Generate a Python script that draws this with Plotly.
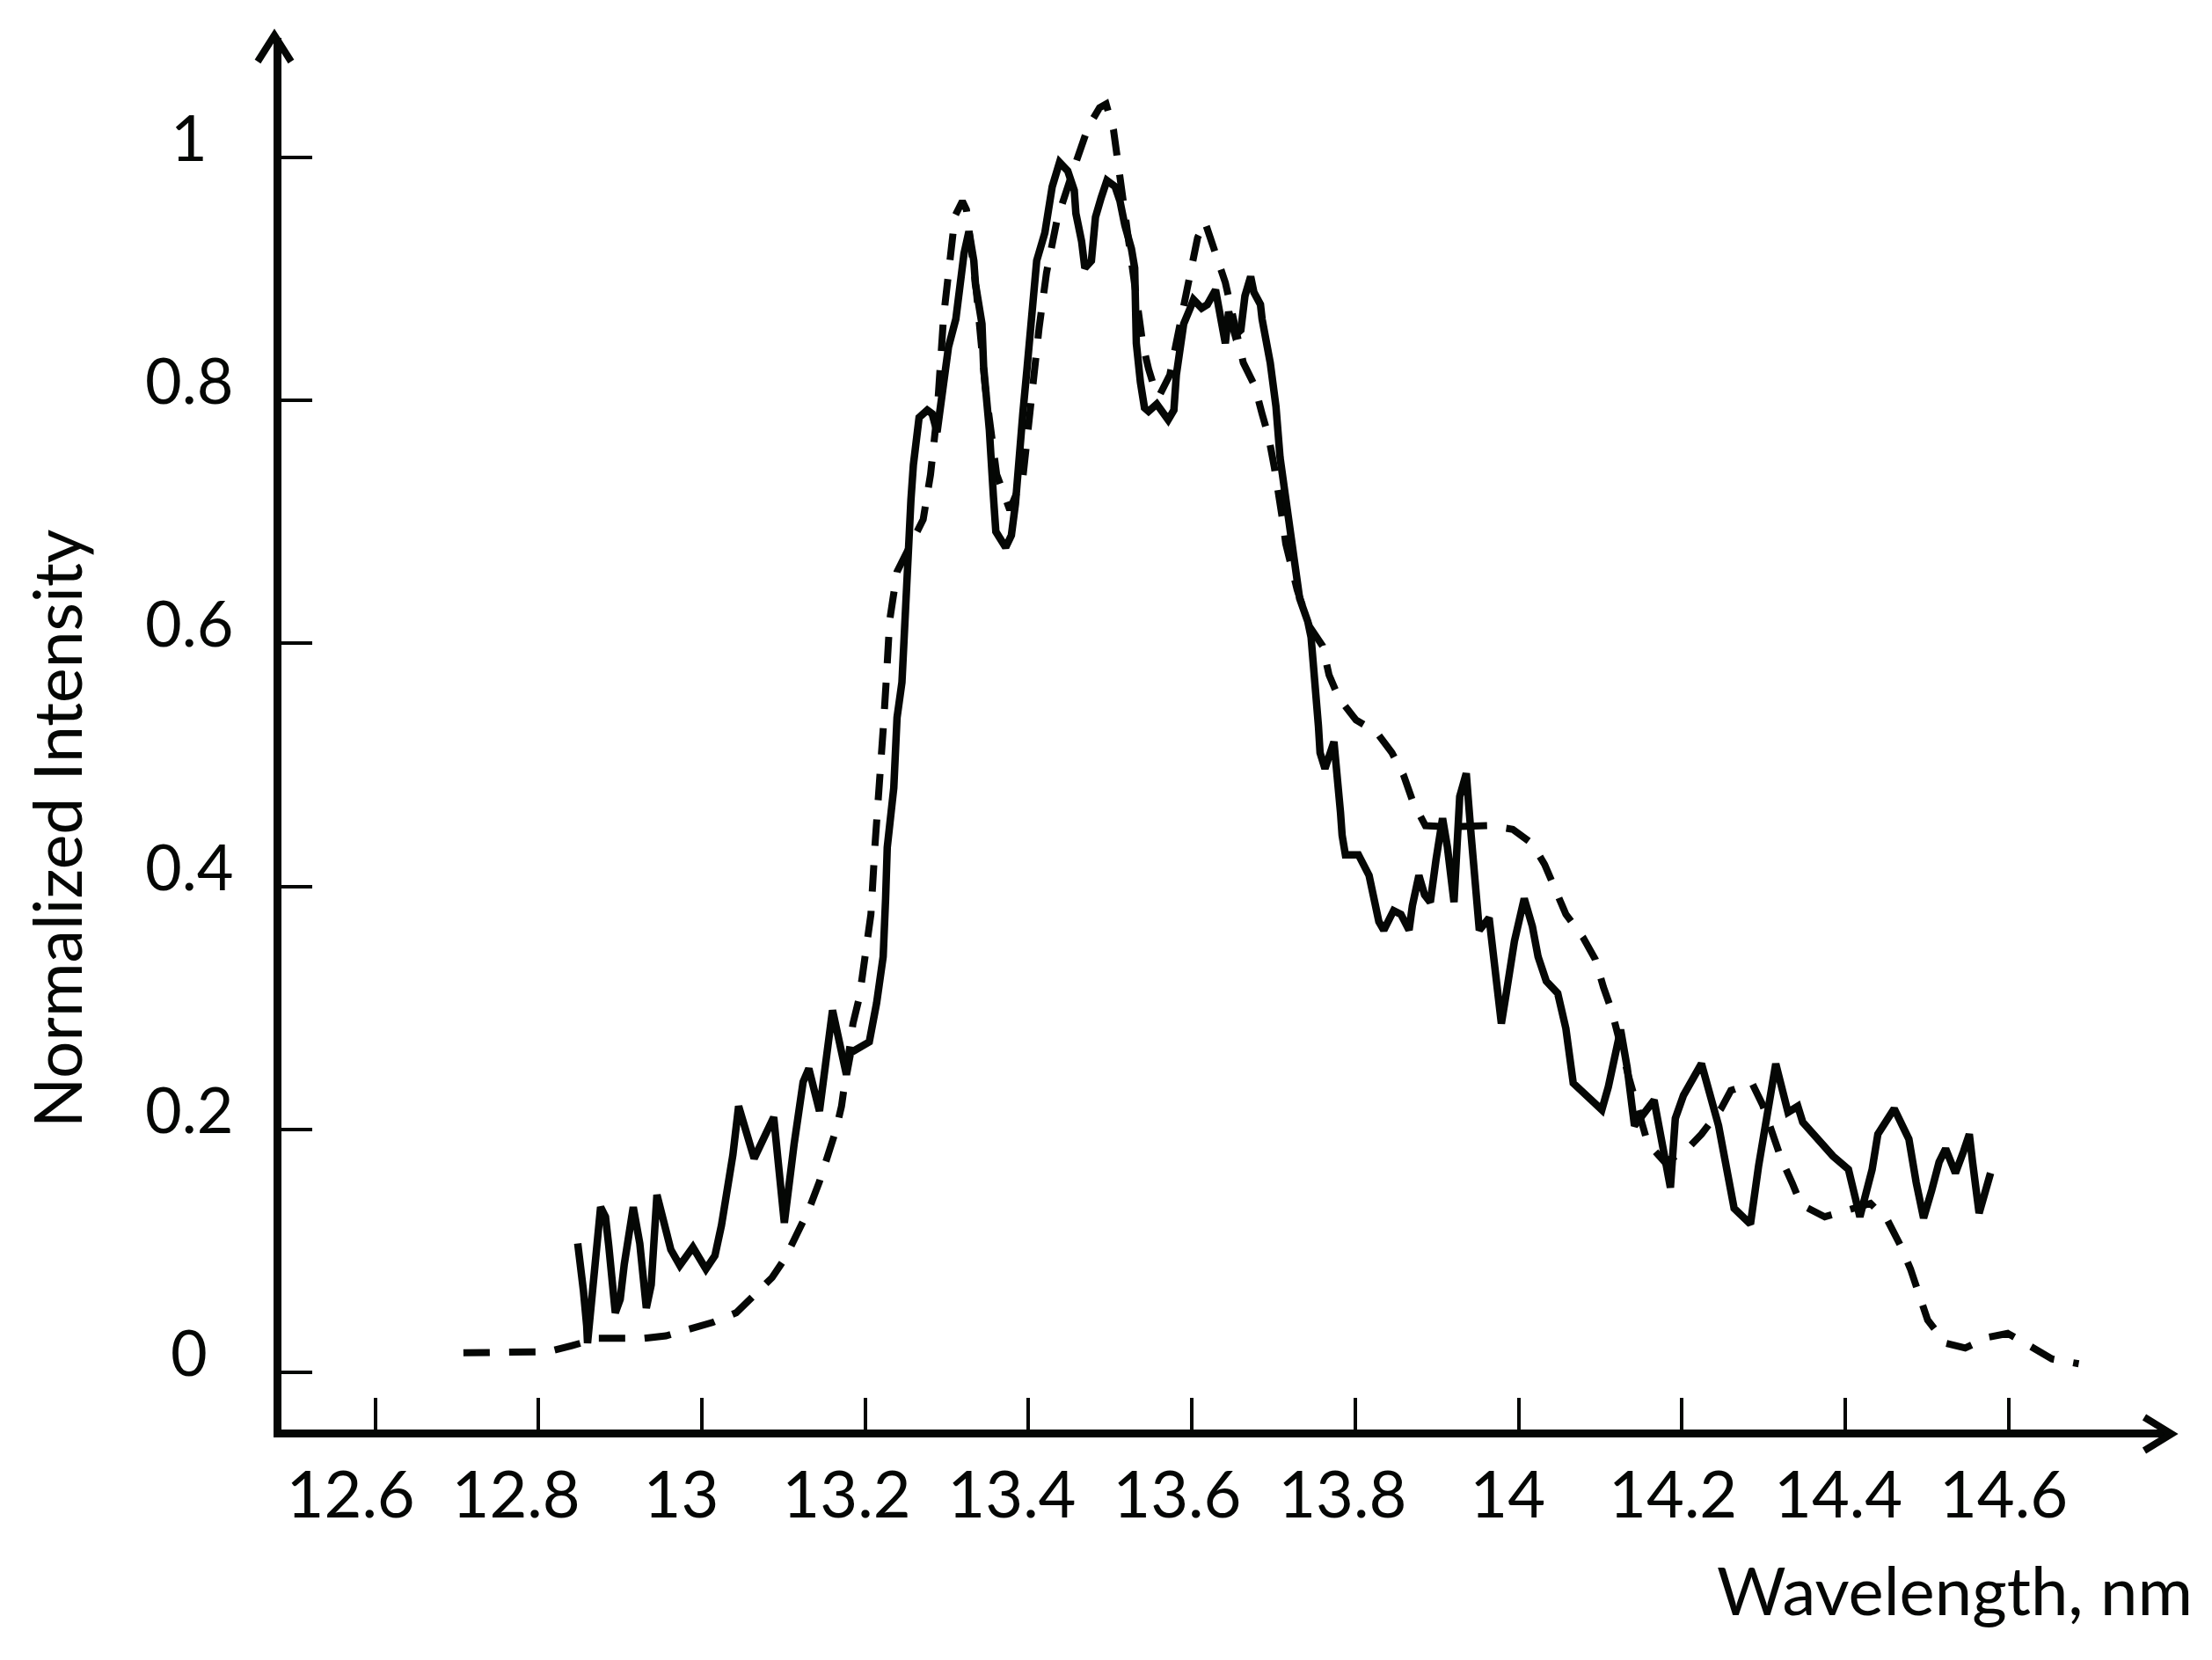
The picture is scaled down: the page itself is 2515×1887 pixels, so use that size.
import plotly.graph_objects as go

# ---- data ----
measured_x = [12.848, 12.851, 12.855, 12.859, 12.860, 12.876, 12.882, 12.886, 12.894, 12.900,
              12.905, 12.916, 12.919, 12.924, 12.932, 12.938, 12.945, 12.952, 12.962, 12.973,
              12.989, 13.005, 13.016, 13.024, 13.038, 13.045, 13.064, 13.088, 13.096, 13.101,
              13.113, 13.124, 13.131, 13.144, 13.160, 13.177, 13.182, 13.205, 13.214, 13.222,
              13.225, 13.227, 13.235, 13.239, 13.245, 13.249, 13.253, 13.256, 13.259, 13.266,
              13.276, 13.282, 13.288, 13.294, 13.302, 13.311, 13.317, 13.321, 13.327, 13.333,
              13.335, 13.343, 13.345, 13.352, 13.357, 13.360, 13.372, 13.379, 13.384, 13.388,
              13.393, 13.398, 13.405, 13.410, 13.420, 13.429, 13.438, 13.448, 13.456, 13.458,
              13.465, 13.469, 13.477, 13.482, 13.489, 13.496, 13.506, 13.512, 13.518, 13.526,
              13.530, 13.532, 13.537, 13.542, 13.547, 13.557, 13.571, 13.578, 13.581, 13.586,
              13.590, 13.598, 13.602, 13.612, 13.619, 13.629, 13.641, 13.645, 13.653, 13.660,
              13.665, 13.672, 13.676, 13.684, 13.686, 13.696, 13.703, 13.708, 13.723, 13.732,
              13.742, 13.746, 13.755, 13.757, 13.763, 13.774, 13.782, 13.784, 13.788, 13.804,
              13.817, 13.823, 13.829, 13.835, 13.847, 13.856, 13.866, 13.870, 13.878, 13.885,
              13.892, 13.899, 13.907, 13.913, 13.921, 13.928, 13.936, 13.942, 13.952, 13.964,
              13.979, 13.985, 13.995, 14.007, 14.017, 14.024, 14.034, 14.048, 14.058, 14.067,
              14.082, 14.102, 14.110, 14.125, 14.133, 14.142, 14.166, 14.186, 14.192, 14.202,
              14.224, 14.245, 14.264, 14.284, 14.294, 14.315, 14.330, 14.342, 14.348, 14.385,
              14.404, 14.418, 14.433, 14.440, 14.460, 14.478, 14.487, 14.496, 14.506, 14.515,
              14.523, 14.535, 14.545, 14.552, 14.556, 14.564, 14.578]
measured_y = [0.106, 0.092, 0.067, 0.038, 0.024, 0.136, 0.128, 0.104, 0.049, 0.060,
              0.089, 0.136, 0.121, 0.106, 0.053, 0.072, 0.146, 0.128, 0.101, 0.088,
              0.103, 0.085, 0.096, 0.121, 0.179, 0.219, 0.176, 0.210, 0.152, 0.123,
              0.188, 0.239, 0.250, 0.215, 0.298, 0.245, 0.263, 0.272, 0.304, 0.342,
              0.390, 0.432, 0.481, 0.539, 0.568, 0.630, 0.676, 0.718, 0.747, 0.786,
              0.792, 0.789, 0.774, 0.802, 0.844, 0.867, 0.902, 0.921, 0.939, 0.915,
              0.896, 0.863, 0.828, 0.776, 0.721, 0.692, 0.679, 0.689, 0.715, 0.757,
              0.789, 0.825, 0.873, 0.915, 0.938, 0.976, 0.996, 0.989, 0.973, 0.954,
              0.931, 0.909, 0.915, 0.951, 0.967, 0.981, 0.976, 0.964, 0.944, 0.925,
              0.909, 0.847, 0.815, 0.794, 0.791, 0.797, 0.784, 0.792, 0.821, 0.847,
              0.863, 0.876, 0.883, 0.876, 0.879, 0.891, 0.847, 0.873, 0.854, 0.858,
              0.886, 0.902, 0.889, 0.879, 0.867, 0.831, 0.795, 0.753, 0.686, 0.637,
              0.618, 0.605, 0.532, 0.510, 0.497, 0.519, 0.461, 0.442, 0.426, 0.426,
              0.409, 0.393, 0.371, 0.364, 0.380, 0.377, 0.364, 0.384, 0.409, 0.393,
              0.387, 0.422, 0.456, 0.432, 0.387, 0.474, 0.493, 0.442, 0.364, 0.374,
              0.287, 0.312, 0.355, 0.390, 0.367, 0.342, 0.322, 0.312, 0.283, 0.238,
              0.228, 0.216, 0.235, 0.282, 0.251, 0.203, 0.224, 0.152, 0.209, 0.228,
              0.254, 0.203, 0.135, 0.122, 0.170, 0.254, 0.214, 0.219, 0.206, 0.178,
              0.167, 0.128, 0.167, 0.196, 0.217, 0.192, 0.156, 0.127, 0.150, 0.173,
              0.184, 0.164, 0.182, 0.196, 0.173, 0.131, 0.164]

model_x = [12.708, 12.751, 12.781, 12.812, 12.841, 12.873, 12.894, 12.929, 12.956, 12.988,
           13.013, 13.042, 13.061, 13.086, 13.102, 13.118, 13.131, 13.144, 13.153, 13.164,
           13.171, 13.185, 13.193, 13.198, 13.207, 13.212, 13.218, 13.222, 13.226, 13.230,
           13.239, 13.255, 13.271, 13.280, 13.288, 13.296, 13.304, 13.310, 13.319, 13.324,
           13.336, 13.347, 13.361, 13.377, 13.393, 13.398, 13.406, 13.413, 13.422, 13.435,
           13.456, 13.473, 13.487, 13.495, 13.504, 13.508, 13.520, 13.526, 13.540, 13.547,
           13.557, 13.561, 13.573, 13.594, 13.600, 13.607, 13.616, 13.631, 13.641, 13.663,
           13.677, 13.686, 13.694, 13.701, 13.706, 13.711, 13.715, 13.729, 13.744, 13.760,
           13.768, 13.780, 13.801, 13.826, 13.845, 13.859, 13.871, 13.886, 13.918, 13.964,
           13.993, 14.017, 14.032, 14.046, 14.058, 14.079, 14.094, 14.104, 14.114, 14.135,
           14.158, 14.179, 14.204, 14.224, 14.248, 14.260, 14.286, 14.299, 14.311, 14.321,
           14.335, 14.346, 14.375, 14.399, 14.431, 14.452, 14.468, 14.480, 14.492, 14.501,
           14.523, 14.547, 14.576, 14.599, 14.628, 14.653, 14.686]
model_y = [0.016, 0.017, 0.017, 0.017, 0.022, 0.028, 0.028, 0.028, 0.030, 0.036,
           0.041, 0.049, 0.062, 0.078, 0.094, 0.116, 0.134, 0.157, 0.176, 0.199,
           0.219, 0.287, 0.309, 0.333, 0.377, 0.434, 0.485, 0.529, 0.572, 0.619,
           0.659, 0.681, 0.702, 0.739, 0.789, 0.869, 0.912, 0.952, 0.964, 0.957,
           0.891, 0.811, 0.739, 0.710, 0.736, 0.770, 0.816, 0.860, 0.905, 0.949,
           0.992, 1.025, 1.041, 1.044, 1.023, 1.004, 0.938, 0.913, 0.846, 0.826,
           0.804, 0.805, 0.821, 0.891, 0.910, 0.934, 0.947, 0.918, 0.897, 0.831,
           0.812, 0.789, 0.770, 0.745, 0.726, 0.702, 0.682, 0.644, 0.614, 0.598,
           0.574, 0.555, 0.537, 0.527, 0.510, 0.492, 0.469, 0.450, 0.449, 0.450,
           0.447, 0.435, 0.418, 0.395, 0.377, 0.358, 0.340, 0.317, 0.298, 0.243,
           0.189, 0.173, 0.182, 0.196, 0.217, 0.232, 0.238, 0.220, 0.196, 0.177,
           0.156, 0.138, 0.128, 0.133, 0.139, 0.125, 0.104, 0.085, 0.063, 0.043,
           0.024, 0.020, 0.029, 0.032, 0.021, 0.011, 0.007]

x_tick_vals = [12.6, 12.8, 13.0, 13.2, 13.4, 13.6, 13.8, 14.0, 14.2, 14.4, 14.6]
x_tick_text = ["12.6", "12.8", "13", "13.2", "13.4", "13.6", "13.8", "14", "14.2", "14.4", "14.6"]
y_tick_vals = [0, 0.2, 0.4, 0.6, 0.8, 1.0]
y_tick_text = ["0", "0.2", "0.4", "0.6", "0.8", "1"]

# ---- layout geometry (figure pixels; the page adds an 8 px body margin) ----
OFF = 8
W, H = 2515 - 2 * OFF, 1887 - 2 * OFF
L, R, T, B = 312, 41, 35, 254
PW, PH = W - L - R, H - T - B
INK = "#050705"
FONT = "Lato, 'Open Sans', sans-serif"


def px(Xr):
    """reference-screen x pixel -> paper fraction"""
    return (Xr - OFF - L) / PW


def py(Yr):
    """reference-screen y pixel -> paper fraction"""
    return (H - B - (Yr - OFF)) / PH


fig = go.Figure()
fig.add_trace(go.Scatter(x=model_x, y=model_y, mode="lines",
                         line=dict(color=INK, width=8, dash="30px,22px"),
                         showlegend=False, hoverinfo="skip"))
fig.add_trace(go.Scatter(x=measured_x, y=measured_y, mode="lines",
                         line=dict(color=INK, width=8.5),
                         showlegend=False, hoverinfo="skip"))
# carrier for the (slightly wider spaced) wavelength labels
fig.add_trace(go.Scatter(x=x_tick_vals, y=[None] * len(x_tick_vals), xaxis="x2",
                         mode="markers", showlegend=False, hoverinfo="skip"))

annotations = []
for v, t in zip(y_tick_vals, y_tick_text):
    annotations.append(dict(x=px(215), xref="paper", y=v, yref="y", text=t,
                            showarrow=False, xanchor="center", yanchor="middle",
                            yshift=24, font=dict(family=FONT, size=72, color=INK)))
annotations.append(dict(x=px(56 + OFF), y=py(942), xref="paper", yref="paper",
                        text="Normalized Intensity", textangle=-90, showarrow=False,
                        xanchor="center", yanchor="middle",
                        font=dict(family=FONT, size=75, color=INK)))
annotations.append(dict(x=px(2495), y=py(1806), xref="paper", yref="paper",
                        text="Wavelength, nm", showarrow=False,
                        xanchor="right", yanchor="middle",
                        font=dict(family=FONT, size=76, color=INK)))

shapes = [
    dict(type="path", xref="paper", yref="paper", layer="above",
         path=f"M {px(293)},{py(70)} L {px(312)},{py(40)} L {px(331)},{py(70)}",
         line=dict(color=INK, width=8)),
    dict(type="path", xref="paper", yref="paper", layer="above",
         path=f"M {px(2438)},{py(1611)} L {px(2469)},{py(1630)} L {px(2438)},{py(1649)}",
         line=dict(color=INK, width=8)),
]

fig.update_layout(
    width=W, height=H,
    margin=dict(l=L, r=R, t=T, b=B, pad=0),
    paper_bgcolor="white", plot_bgcolor="white",
    annotations=annotations, shapes=shapes,
    xaxis=dict(range=[12.4852, 14.7964], showgrid=False, zeroline=False,
               showline=True, linecolor=INK, linewidth=9,
               tickmode="array", tickvals=x_tick_vals,
               ticks="inside", ticklen=36, tickwidth=3.5, tickcolor=INK,
               showticklabels=False),
    xaxis2=dict(range=[12.5163, 14.80], overlaying="x", anchor="y", side="bottom",
                showgrid=False, zeroline=False, showline=False, ticks="",
                tickmode="array", tickvals=x_tick_vals, ticktext=x_tick_text,
                ticklabelstandoff=25,
                tickfont=dict(family=FONT, size=74, color=INK)),
    yaxis=dict(range=[-0.0471, 1.0985], showgrid=False, zeroline=False,
               showline=True, linecolor=INK, linewidth=9,
               tickmode="array", tickvals=y_tick_vals,
               ticks="inside", ticklen=35, tickwidth=3.5, tickcolor=INK,
               showticklabels=False),
)

fig.write_html("out.html")
